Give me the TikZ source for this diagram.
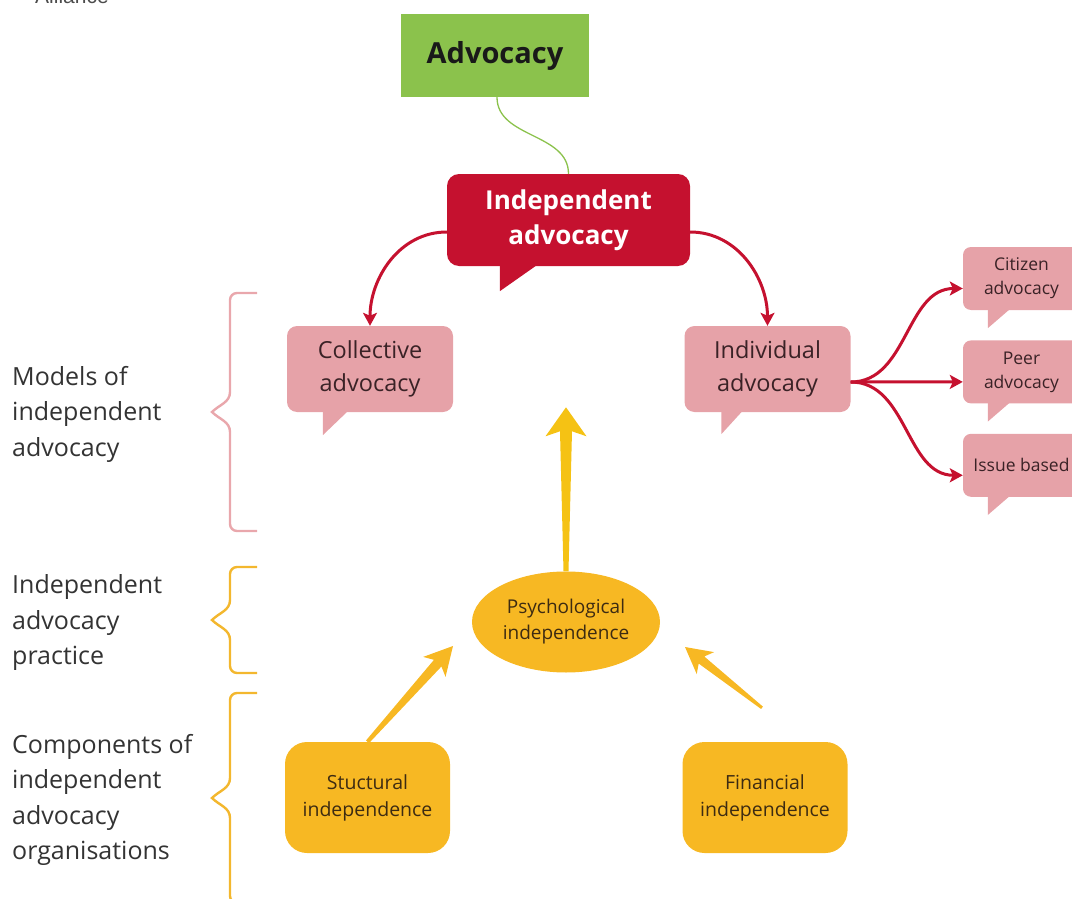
\documentclass[tikz,border=0pt]{standalone}
\usepackage{fontspec}
\setmainfont{Open Sans}
\newfontfamily\logofont{Liberation Sans}
\usetikzlibrary{arrows.meta,positioning,calc,shapes.geometric}

\definecolor{advgreen}{HTML}{8BC24C}
\definecolor{indred}{HTML}{C5112F}
\definecolor{modpink}{HTML}{E6A2A8}
\definecolor{bracepink}{HTML}{E9A7AC}
\definecolor{compyellow}{HTML}{F7B823}
\definecolor{upyellow}{HTML}{F5C214}
\definecolor{braceyellow}{HTML}{F3B72E}
\definecolor{labelgray}{HTML}{333333}
\definecolor{pinktext}{HTML}{3A2226}
\definecolor{yellowtext}{HTML}{3D2B12}

\newcommand{\calltail}[5]{%
  \fill[#5] ([xshift=#2pt,yshift=1pt]#1.south west) -- ++(#3,0)
    -- ([xshift=#2pt,yshift=-#4pt]#1.south west) -- cycle;}
\newcommand{\sidebrace}[4]{%
  \draw[#4, line width=2.4pt] (257,#1) -- (237,#1) to[out=180,in=90] (230,#1+7)
    -- (230,#2-20) to[out=-90,in=45] (212,#2) to[out=-45,in=90] (230,#2+20)
    -- (230,#3-7) to[out=-90,in=180] (237,#3) -- (257,#3);}
\newcommand{\fatarrow}[7]{%
  \coordinate (hb) at ($(#2)!#6!(#1)$);
  \coordinate (hs) at ($(#2)!#6-5pt!(#1)$);
  \fill[#7] ($(#1)!#3!90:(#2)$) -- ($(hs)!#4!90:(#2)$) -- ($(hb)!#5!90:(#2)$) -- (#2)
    -- ($(hb)!#5!-90:(#2)$) -- ($(hs)!#4!-90:(#2)$) -- ($(#1)!#3!-90:(#2)$) -- cycle;}

\begin{document}
\begin{tikzpicture}[x=1pt, y=-1pt,
  speech/.style={fill=#1, rounded corners=10pt, align=center, inner sep=0pt},
  speech/.default=modpink,
  modbox/.style={speech, minimum width=166pt, minimum height=86pt, text=pinktext,
    font=\fontsize{23.5}{33}\selectfont},
  kindbox/.style={speech, rounded corners=8pt, minimum width=117pt, minimum height=63pt,
    text=pinktext, font=\fontsize{17.5}{24}\selectfont},
  ybox/.style={fill=compyellow, rounded corners=22pt, align=center, inner sep=0pt,
    minimum width=165pt, minimum height=111pt, text=yellowtext, font=\fontsize{19.5}{27}\selectfont},
  tag/.style={anchor=west, align=left, inner sep=0pt, text=labelgray, font=\fontsize{25}{35.5}\selectfont},
  redarr/.style={indred, line width=3pt, -{Stealth[length=13pt,width=14pt,inset=3pt]}}]
\useasboundingbox (0,0) rectangle (1072,899);

\node[anchor=base west, inner sep=0pt, text=black!70, font=\logofont\fontsize{21}{21}\selectfont] (logo) at (35,4) {Alliance};

\node[fill=advgreen, minimum width=188pt, minimum height=83pt, inner sep=0pt, text=black!90,
  font=\fontsize{29}{32}\selectfont\bfseries] (adv) at (495,55.5) {Advocacy};
\node[speech=indred, rounded corners=12pt, minimum width=243pt, minimum height=92pt, text=white,
  font=\fontsize{26}{35}\selectfont\bfseries] (ind) at (568.5,220) {Independent\\advocacy};
\node[modbox] (coll) at (370,369) {Collective\\advocacy};
\node[modbox] (indiv) at (767.5,369) {Individual\\advocacy};
\node[kindbox] (cit) at (1021.5,278.5) {Citizen\\advocacy};
\node[kindbox, below=30pt of cit] (peer) {Peer\\advocacy};
\node[kindbox, below=30pt of peer] (issue) {Issue based};

\node[ellipse, fill=compyellow, minimum width=188pt, minimum height=101pt, inner sep=0pt, align=center,
  text=yellowtext, font=\fontsize{19}{26}\selectfont] (psy) at (566,622) {Psychological\\independence};
\node[ybox] (struct) at (367.5,797.5) {Stuctural\\independence};
\node[ybox] (fin) at (765,797.5) {Financial\\independence};

\node[tag] (models) at (12,414) {Models of\\independent\\advocacy};
\node[tag] (practice) at (12,623) {Independent\\advocacy\\practice};
\node[tag] (comps) at (12,800) {Components of\\independent\\advocacy\\organisations};

\calltail{ind}{53}{37}{25}{indred}
\calltail{coll}{36}{25}{23}{modpink}
\calltail{indiv}{37}{21}{22}{modpink}
\foreach \t in {cit,peer,issue} {\calltail{\t}{25}{22}{18}{modpink}}

\sidebrace{293}{412}{531}{bracepink}
\sidebrace{567}{620}{673}{braceyellow}
\sidebrace{693}{798}{903}{braceyellow}

\draw[advgreen, line width=1.3pt] ([xshift=2pt]adv.south) to[out=-90,in=90] (ind.north);
\draw[redarr] ([yshift=-12pt]ind.west) to[out=180,in=90] (coll.north);
\draw[redarr] ([yshift=-12pt]ind.east) to[out=0,in=90] (indiv.north);
\foreach \t in {cit,peer,issue}
  \draw[redarr] ([yshift=-13pt]indiv.east) to[out=0,in=180] ([yshift=-10pt]\t.west);

\coordinate (uptip) at ($(psy.north)+(0,-164)$);
\coordinate (stip) at ($(psy.center)+(-113,24)$);
\coordinate (ftail) at ($(fin.north)+(-3,-34)$);
\coordinate (ftip) at ($(psy.center)+(119,25)$);
\fatarrow{psy.north}{uptip}{2.5pt}{6pt}{20.5pt}{29pt}{upyellow}
\fatarrow{struct.north}{stip}{2pt}{5pt}{15pt}{28pt}{compyellow}
\fatarrow{ftail}{ftip}{1.5pt}{4.5pt}{14pt}{26pt}{compyellow}
\end{tikzpicture}
\end{document}
